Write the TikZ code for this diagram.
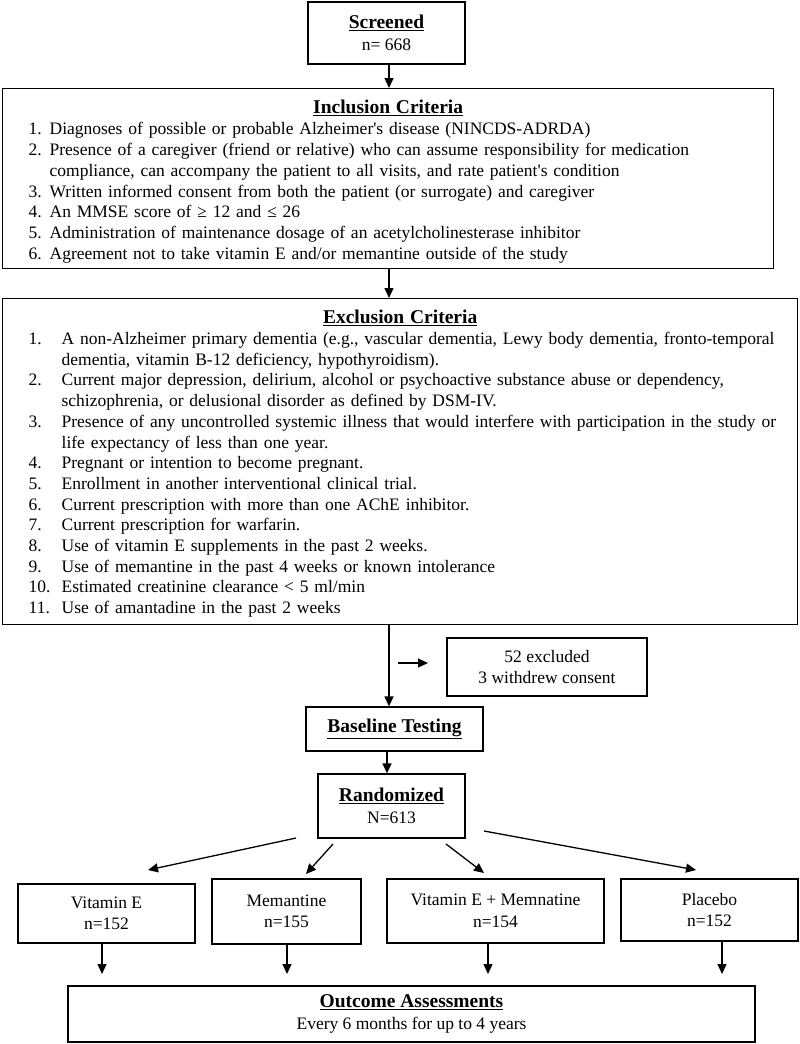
\documentclass[tikz,border=0pt]{standalone}
\usepackage{fontspec}
\setmainfont{Liberation Serif}
\usetikzlibrary{arrows.meta}
\newcommand{\iline}[2]{\makebox[21pt][l]{#1}\mbox{#2}}
\newcommand{\icont}[1]{\hspace*{21pt}\mbox{#1}}
\newcommand{\eline}[2]{\makebox[33pt][l]{#1}\mbox{#2}}
\newcommand{\econt}[1]{\hspace*{33pt}\mbox{#1}}
\newcommand{\apos}{\textquotesingle}
\newcommand{\ttl}[1]{{\fontsize{19.5}{21}\selectfont\bfseries\underline{#1}}}
\begin{document}
\begin{tikzpicture}[x=1pt,y=-1pt,
  box/.style={draw, line width=1.3pt, inner sep=0pt, align=center,
    font=\fontsize{17.5}{21.5}\selectfont},
  bigbox/.style={draw, line width=1.3pt, inner ysep=0pt, align=left, anchor=north west,
    font=\fontsize{17.5}{20.8}\selectfont},
  arr/.style={-{Triangle[length=10pt,width=9pt]}, line width=1.3pt}
]
\useasboundingbox (0,0) rectangle (800,1044);

\node[box, minimum width=157pt, minimum height=62pt] (scr) at (386.5,33)
  {\ttl{Screened}\\n= 668};

\node[bigbox, inner xsep=26pt, text width=719pt, minimum height=180pt] (incl) at (2,88)
  {\rule{0pt}{20pt}\makebox[719pt]{\ttl{Inclusion Criteria}}\\
   \iline{1.}{Diagnoses of possible or probable Alzheimer\apos s disease (NINCDS-ADRDA)}\\
   \iline{2.}{Presence of a caregiver (friend or relative) who can assume responsibility for medication}\\
   \icont{compliance, can accompany the patient to all visits, and rate patient\apos s condition}\\
   \iline{3.}{Written informed consent from both the patient (or surrogate) and caregiver}\\
   \iline{4.}{An MMSE score of ≥ 12 and ≤ 26}\\
   \iline{5.}{Administration of maintenance dosage of an acetylcholinesterase inhibitor}\\
   \iline{6.}{Agreement not to take vitamin E and/or memantine outside of the study}};

\node[bigbox, inner xsep=26pt, text width=743pt, minimum height=326pt, font=\fontsize{17.5}{20.7}\selectfont] (excl) at (2,298)
  {\rule{0pt}{18pt}\makebox[743pt]{\ttl{Exclusion Criteria}}\\
   \eline{1.}{A non-Alzheimer primary dementia (e.g., vascular dementia, Lewy body dementia, fronto-temporal}\\
   \econt{dementia, vitamin B-12 deficiency, hypothyroidism).}\\
   \eline{2.}{Current major depression, delirium, alcohol or psychoactive substance abuse or dependency,}\\
   \econt{schizophrenia, or delusional disorder as defined by DSM-IV.}\\
   \eline{3.}{Presence of any uncontrolled systemic illness that would interfere with participation in the study or}\\
   \econt{life expectancy of less than one year.}\\
   \eline{4.}{Pregnant or intention to become pregnant.}\\
   \eline{5.}{Enrollment in another interventional clinical trial.}\\
   \eline{6.}{Current prescription with more than one AChE inhibitor.}\\
   \eline{7.}{Current prescription for warfarin.}\\
   \eline{8.}{Use of vitamin E supplements in the past 2 weeks.}\\
   \eline{9.}{Use of memantine in the past 4 weeks or known intolerance}\\
   \eline{10.}{Estimated creatinine clearance < 5 ml/min}\\
   \eline{11.}{Use of amantadine in the past 2 weeks}};

\node[box, minimum width=200pt, minimum height=58pt] (exd) at (547,667)
  {52 excluded\\3 withdrew consent};
\node[box, minimum width=177pt, minimum height=44pt] (base) at (394.5,729)
  {\ttl{Baseline Testing}};
\node[box, minimum width=147pt, minimum height=64pt] (rand) at (391.5,806)
  {\ttl{Randomized}\\N=613};

\node[box, minimum width=177pt, minimum height=59pt] (ve) at (106.5,913.5)
  {Vitamin E\\n=152};
\node[box, minimum width=149pt, minimum height=65pt] (mem) at (286.5,911.5)
  {Memantine\\n=155};
\node[box, minimum width=217pt, minimum height=64pt] (vem) at (495.5,911)
  {Vitamin E + Memnatine\\n=154};
\node[box, minimum width=177pt, minimum height=62pt] (pla) at (709.5,910)
  {Placebo\\n=152};

\node[box, minimum width=687pt, minimum height=56pt] (out) at (411.5,1014)
  {\ttl{Outcome Assessments}\\Every 6 months for up to 4 years};

% connectors
\coordinate (x1) at (389,0);
\draw[arr] (scr.south -| x1) -- (incl.north -| x1);
\draw[arr] (incl.south -| x1) -- (excl.north -| x1);
\draw[arr] (excl.south -| x1) -- (base.north -| x1);
\coordinate (ea) at (398,663);
\coordinate (eb) at (428,663);
\draw[arr] (ea) -- (eb);
\coordinate (x2) at (387,0);
\draw[arr] (base.south -| x2) -- (rand.north -| x2);

\coordinate (r1) at (296,838); \coordinate (t1) at (148,870);
\coordinate (r2) at (333,844); \coordinate (t2) at (306,874);
\coordinate (r3) at (446,844); \coordinate (t3) at (484,873);
\coordinate (r4) at (484,831); \coordinate (t4) at (696,870);
\draw[arr] (r1) -- (t1);
\draw[arr] (r2) -- (t2);
\draw[arr] (r3) -- (t3);
\draw[arr] (r4) -- (t4);

\coordinate (o1) at (102,974);
\coordinate (o2) at (287,974);
\coordinate (o3) at (488,974);
\coordinate (o4) at (722,974);
\draw[arr] (ve.south -| o1) -- (o1);
\draw[arr] (mem.south -| o2) -- (o2);
\draw[arr] (vem.south -| o3) -- (o3);
\draw[arr] (pla.south -| o4) -- (o4);
\end{tikzpicture}
\end{document}
